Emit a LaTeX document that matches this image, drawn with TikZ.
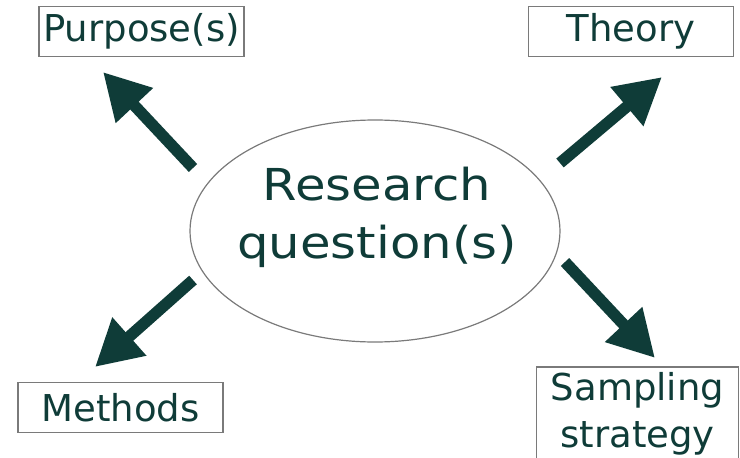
\documentclass[tikz,border=0pt]{standalone}
\usepackage{fontspec}
\setmainfont{DejaVu Sans}
\newfontfamily\widefont[FakeStretch=1.13]{DejaVu Sans}
\usepackage{xcolor}
\usepackage{tikz}
\usetikzlibrary{shapes.geometric}
\usetikzlibrary{arrows.meta}
\definecolor{darkteal}{HTML}{0F3C38}
\definecolor{boxgray}{HTML}{7A7A7A}

\begin{document}
\begin{tikzpicture}[x=1pt,y=-1pt,
   topic/.style={draw=boxgray,line width=1.5pt,text=darkteal,inner sep=0pt,
      minimum width=205pt,minimum height=50pt,align=center,
      font=\fontsize{37}{47}\selectfont},
   bigarrow/.style={draw=darkteal,fill=darkteal,line width=11.5pt,
      -{Triangle[length=46pt,width=48pt]}}]
   \useasboundingbox (0,0) rectangle (740,458);
   \node[ellipse,draw=boxgray,line width=1.2pt,inner sep=0pt,
      minimum width=370pt,minimum height=222pt] (rq) at (375,231) {};
   \node[text=darkteal,align=center,font=\widefont\fontsize{44}{58}\selectfont]
      (rqtext) at (377,217) {Research\\question(s)};
   \node[topic] (purpose) at (141.5,31.5) {Purpose(s)};
   \node[topic] (theory) at (631,31.5) {Theory};
   \node[topic] (methods) at (120.5,407.5) {Methods};
   \node[topic,minimum width=202pt,minimum height=93pt] (sampling) at (637.5,413.5) {Sampling\\strategy};
   \coordinate (purpose tail) at (193,168);
   \coordinate (purpose tip) at (103,72);
   \coordinate (theory tail) at (560,163);
   \coordinate (theory tip) at (662,77);
   \coordinate (methods tail) at (193,280);
   \coordinate (methods tip) at (95,367);
   \coordinate (sampling tail) at (565,262);
   \coordinate (sampling tip) at (655,358);
   \draw[bigarrow] (purpose tail) -- (purpose tip);
   \draw[bigarrow] (theory tail) -- (theory tip);
   \draw[bigarrow] (methods tail) -- (methods tip);
   \draw[bigarrow] (sampling tail) -- (sampling tip);
\end{tikzpicture}
\end{document}
